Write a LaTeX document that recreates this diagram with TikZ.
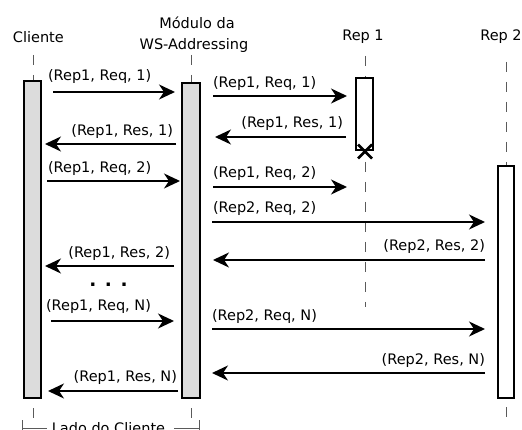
\documentclass[tikz,border=0pt]{standalone}
\usepackage{fontspec}
\setmainfont{DejaVu Sans}
\usetikzlibrary{arrows.meta}
\definecolor{barfill}{RGB}{220,220,220}
\definecolor{lifegray}{RGB}{90,90,90}
\tikzset{
  lifeline/.style={draw=lifegray, line width=1pt, dash pattern=on 10pt off 10pt},
  actbar/.style={draw=black, line width=2pt, fill=barfill, inner sep=0pt, outer sep=0pt},
  repbar/.style={draw=black, line width=2pt, fill=white, inner sep=0pt, outer sep=0pt},
  msg/.style={line width=2pt, -{Stealth[length=16pt,width=15pt,inset=5pt]}},
  lbl/.style={font=\fontsize{14.5}{17}\selectfont, inner sep=0pt, outer sep=0pt},
  dotsstyle/.style={font=\fontsize{18.5}{20}\selectfont\bfseries, inner sep=0pt},
  brk/.style={draw=lifegray, line width=1pt}
}
\begin{document}
\begin{tikzpicture}[x=1pt,y=-1pt]
\useasboundingbox (0,0) rectangle (522,430);
\clip (0,0) rectangle (522,430);

% headers
\node[lbl, anchor=base] (hc)  at (38.4,42.7) {Cliente};
\node[lbl, anchor=base] (hm1) at (197,28.3) {Módulo da};
\node[lbl, anchor=base] (hm2) at (194,50) {WS-Addressing};
\node[lbl, anchor=base] (hr1) at (363,41) {Rep 1};
\node[lbl, anchor=base] (hr2) at (501,41) {Rep 2};

% lifelines (drawn under the bars)
\draw[lifeline] (33,55) -- (33,82);
\draw[lifeline] (33,408) -- (33,418);
\draw[lifeline] (191,55) -- (191,84);
\draw[lifeline] (191,408) -- (191,418);
\draw[lifeline] (365,56) -- (365,79);
\draw[lifeline] (365,162) -- (365,307);
\draw[lifeline] (506,62) -- (506,167);
\draw[lifeline] (506,407) -- (506,420);

% activation bars
\node[actbar, minimum width=17pt, minimum height=317pt] (cbar)  at (32.5,239.5) {};
\node[actbar, minimum width=18pt, minimum height=315pt] (mbar)  at (191,240.5) {};
\node[repbar, minimum width=17pt, minimum height=72pt]  (r1bar) at (364.5,114) {};
\node[repbar, minimum width=16pt, minimum height=232pt] (r2bar) at (506,282) {};

% destruction mark
\draw[line width=2.6pt] (358,144.5) -- (372,158.5) (372,144.5) -- (358,158.5);

% message end points
\coordinate (a1) at (53,92);   \coordinate (b1) at (175,92);
\coordinate (a2) at (176,144); \coordinate (b2) at (45,144);
\coordinate (a3) at (47,181);  \coordinate (b3) at (180,181);
\coordinate (a4) at (174,266); \coordinate (b4) at (45,266);
\coordinate (a5) at (51,321);  \coordinate (b5) at (174,321);
\coordinate (a6) at (178,391); \coordinate (b6) at (48,391);

\coordinate (c1) at (213,96);  \coordinate (d1) at (347,96);
\coordinate (c2) at (346,137); \coordinate (d2) at (215,137);
\coordinate (c3) at (213,187); \coordinate (d3) at (347,187);
\coordinate (c4) at (212,222); \coordinate (d4) at (485,222);
\coordinate (c5) at (485,260); \coordinate (d5) at (213,260);
\coordinate (c6) at (212,329); \coordinate (d6) at (485,329);
\coordinate (c7) at (485,373); \coordinate (d7) at (212,373);

% messages, client side
\draw[msg] (a1) -- (b1);
\node[lbl, anchor=base west] (l1) at (48,81) {(Rep1, Req, 1)};
\draw[msg] (a2) -- (b2);
\node[lbl, anchor=base east] (l2) at (173,136) {(Rep1, Res, 1)};
\draw[msg] (a3) -- (b3);
\node[lbl, anchor=base west] (l3) at (48,173) {(Rep1, Req, 2)};
\draw[msg] (a4) -- (b4);
\node[lbl, anchor=base east] (l4) at (170,258) {(Rep1, Res, 2)};
\node[dotsstyle, anchor=base] (dots) at (108.5,287) {. . .};
\draw[msg] (a5) -- (b5);
\node[lbl, anchor=base west] (l5) at (46,311) {(Rep1, Req, N)};
\draw[msg] (a6) -- (b6);
\node[lbl, anchor=base east] (l6) at (177,381) {(Rep1, Res, N)};

% messages, replica side
\draw[msg] (c1) -- (d1);
\node[lbl, anchor=base west] (k1) at (213,88) {(Rep1, Req, 1)};
\draw[msg] (c2) -- (d2);
\node[lbl, anchor=base east] (k2) at (343,128) {(Rep1, Res, 1)};
\draw[msg] (c3) -- (d3);
\node[lbl, anchor=base west] (k3) at (213,178) {(Rep1, Req, 2)};
\draw[msg] (c4) -- (d4);
\node[lbl, anchor=base west] (k4) at (213,213) {(Rep2, Req, 2)};
\draw[msg] (c5) -- (d5);
\node[lbl, anchor=base east] (k5) at (485,251) {(Rep2, Res, 2)};
\draw[msg] (c6) -- (d6);
\node[lbl, anchor=base west] (k6) at (212,320) {(Rep2, Req, N)};
\draw[msg] (c7) -- (d7);
\node[lbl, anchor=base east] (k7) at (485,364) {(Rep2, Res, N)};

% client side bracket
\node[lbl, anchor=base] (lado) at (108.5,433) {Lado do Cliente};
\draw[brk] (22,420) -- (22,430);
\draw[brk] (199,420) -- (199,430);
\draw[brk] (22,428) -- (47,428);
\draw[brk] (174,428) -- (199,428);
\end{tikzpicture}
\end{document}
